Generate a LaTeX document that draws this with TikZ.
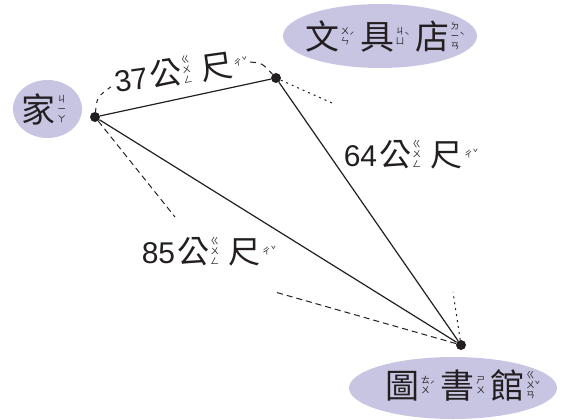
\documentclass[tikz,border=0pt]{standalone}
\usepackage{fontspec}
\setmainfont{Liberation Sans}
\newfontfamily\cjk{Noto Sans CJK TC}
\usepackage{tikz}
\usetikzlibrary{shapes.geometric,positioning}
\definecolor{placefill}{RGB}{200,197,227}
\definecolor{ink}{RGB}{35,31,32}

% zhuyin beside a character: char, stacked symbols, tone
\newsavebox\zybox
\newcommand\zyfont{\cjk\fontsize{8.8}{10}\selectfont}
\newcommand\zy[3]{{\cjk #1}\kern0.04em%
  \sbox\zybox{\zyfont\begin{tabular}[b]{@{}c@{}}#2\end{tabular}}%
  \raisebox{\dimexpr0.36em-0.5\ht\zybox+0.5\dp\zybox\relax}{\usebox\zybox}%
  \raisebox{0.32em}{\zyfont #3}}
\newcommand\meters[1]{{\fontsize{30}{32}\selectfont#1}\kern2pt\zy{公}{ㄍ\\ㄨ\\ㄥ}{}\hspace{0.3em}\zy{尺}{ㄔ}{ˇ}}

\begin{document}
\begin{tikzpicture}[
  x=1pt, y=-1pt,
  every node/.style={font=\fontsize{32}{34}\selectfont, text=ink}
]
  % Styles
  \tikzstyle{place} = [ellipse, fill=placefill, inner sep=0pt]
  \tikzstyle{spot} = [circle, fill=ink, inner sep=0pt, minimum size=10pt]
  \tikzstyle{road} = [draw=ink, line width=1.2pt]
  \tikzstyle{guide} = [draw=ink, line width=1pt]
  \useasboundingbox (0,0) rectangle (565,420);

  % Places
  \node[place, minimum width=69pt, minimum height=58pt] (homebox) at (47.5,109) {};
  \node[place, minimum width=194pt, minimum height=64pt] (shopbox) at (380,36) {};
  \node[place, minimum width=208pt, minimum height=62pt] (libbox) at (453,388) {};
  \node[font=\fontsize{34}{36}\selectfont] (homename) at (44,110) {\zy{家}{ㄐ\\ㄧ\\ㄚ}{}};
  \node[font=\fontsize{34}{36}\selectfont] (shopname) at (385,37) {\zy{文}{ㄨ\\ㄣ}{ˊ}\,\zy{具}{ㄐ\\ㄩ}{ˋ}\,\zy{店}{ㄉ\\ㄧ\\ㄢ}{ˋ}};
  \node[font=\fontsize{34}{36}\selectfont] (libname) at (463,386) {\zy{圖}{ㄊ\\ㄨ}{ˊ}\,\zy{書}{ㄕ\\ㄨ}{}\,\zy{館}{ㄍ\\ㄨ\\ㄢ}{ˇ}};

  % Spots
  \node[spot] (home) at (95,117) {};
  \node[spot] (shop) at (276,78) {};
  \node[spot] (library) at (461,345) {};

  % Roads
  \draw[road] (home) -- (shop);
  \draw[road] (shop) -- (library);
  \draw[road] (home) -- (library);

  % Distances
  \node[rotate=8] (d37) at (181,72) {\meters{37}};
  \node (d64) at (411,155) {\meters{64}};
  \node (d85) at (209,252) {\meters{85}};

  % Guides
  \coordinate (a37) at (112,86);
  \coordinate (b37) at (250,62);
  \coordinate (s64) at (332,103);
  \coordinate (l64) at (453,292);
  \coordinate (h85) at (175,217);
  \coordinate (l85) at (275,292);
  \draw[guide, dash pattern=on 4pt off 5pt] (home) .. controls (97,97) .. (a37);
  \draw[guide, dash pattern=on 6pt off 5pt] (b37) .. controls (262,63) .. (shop);
  \draw[guide, dash pattern=on 2pt off 4pt] (shop) -- (s64);
  \draw[guide, dash pattern=on 2pt off 4pt] (library) -- (l64);
  \draw[guide, dash pattern=on 6pt off 4pt] (home) -- (h85);
  \draw[guide, dash pattern=on 6pt off 4pt] (library) -- (l85);
\end{tikzpicture}
\end{document}
